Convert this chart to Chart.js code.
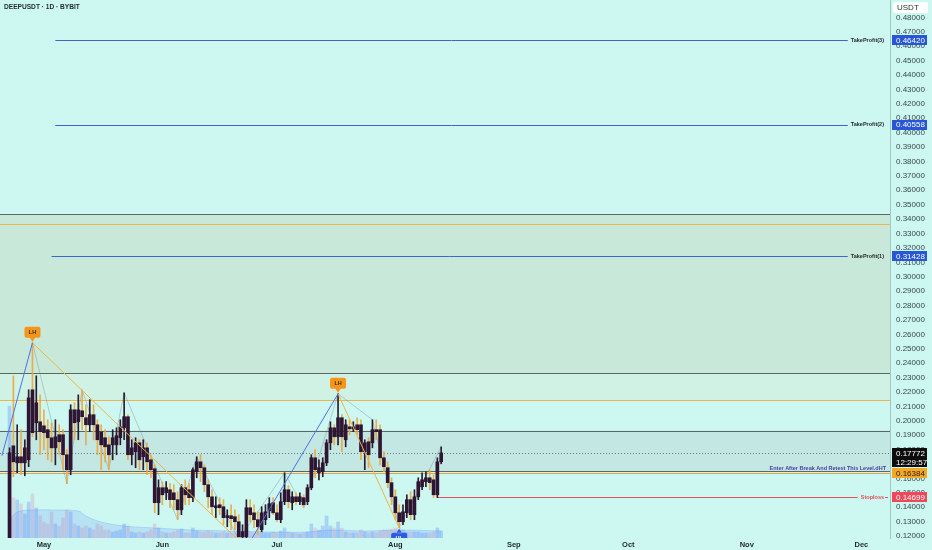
<!DOCTYPE html>
<html>
<head>
<meta charset="utf-8">
<title>DEEPUSDT 1D</title>
<script src="https://cdn.jsdelivr.net/npm/chart.js@4.4.1/dist/chart.umd.min.js"></script>
<style>
  html, body { margin: 0; padding: 0; background: #cdf8f1; overflow: hidden; }
  canvas { display: block; }
</style>
</head>
<body>
<canvas id="chart" width="932" height="550"></canvas>
<script>
// time axis: one slot per day, candles start on Apr 22
const firstDay = "2025-04-20";
const dayCount = 233;
const firstCandle = "2025-04-22";
const monthStarts = ["2025-05-01", "2025-06-01", "2025-07-01", "2025-08-01", "2025-09-01", "2025-10-01", "2025-11-01", "2025-12-01"];
const monthNames = ["May", "Jun", "Jul", "Aug", "Sep", "Oct", "Nov", "Dec"];

// daily candles
const opens = [
  0.1050, 0.1826, 0.1708, 0.1750, 0.1708, 0.1729, 0.2215, 0.1986, 0.1993, 0.1965,
  0.1938, 0.1882, 0.1812, 0.1903, 0.1903, 0.1764, 0.1660, 0.2076, 0.1993, 0.2069,
  0.2021, 0.1972, 0.2042, 0.1972, 0.1924, 0.1882, 0.1833, 0.1833, 0.1833, 0.1882,
  0.1951, 0.2028, 0.1764, 0.1785, 0.1847, 0.1750, 0.1812, 0.1729, 0.1667, 0.1431,
  0.1535, 0.1500, 0.1521, 0.1500, 0.1452, 0.1382, 0.1535, 0.1521, 0.1466, 0.1646,
  0.1715, 0.1674, 0.1556, 0.1472, 0.1396, 0.1417, 0.1403, 0.1327, 0.1341, 0.1334,
  0.1299, 0.1195, 0.1195, 0.1396, 0.1361, 0.1313, 0.1244, 0.1313, 0.1375, 0.1431,
  0.1361, 0.1313, 0.1438, 0.1521, 0.1431, 0.1472, 0.1438, 0.1466, 0.1438, 0.1535,
  0.1743, 0.1639, 0.1646, 0.1708, 0.1847, 0.1951, 0.1889, 0.2021, 0.1868, 0.1958,
  0.1944, 0.1972, 0.1972, 0.1785, 0.1854, 0.1847, 0.1938, 0.1938, 0.1743, 0.1674,
  0.1570, 0.1472, 0.1361, 0.1299, 0.1361, 0.1452, 0.1348, 0.1472, 0.1542, 0.1577,
  0.1604, 0.1590, 0.1486, 0.1715
];
const highs = [
  0.1812, 0.2312, 0.1972, 0.1938, 0.1868, 0.2215, 0.2541, 0.2312, 0.2180, 0.2076,
  0.2007, 0.1986, 0.2007, 0.1972, 0.1938, 0.1799, 0.2111, 0.2125, 0.2180, 0.2215,
  0.2111, 0.2146, 0.2111, 0.2007, 0.1972, 0.1938, 0.1889, 0.1938, 0.1951, 0.2007,
  0.2194, 0.2042, 0.1868, 0.1882, 0.1868, 0.1868, 0.1847, 0.1764, 0.1694, 0.1590,
  0.1577, 0.1577, 0.1563, 0.1556, 0.1507, 0.1556, 0.1590, 0.1563, 0.1674, 0.1750,
  0.1764, 0.1694, 0.1590, 0.1521, 0.1472, 0.1466, 0.1452, 0.1382, 0.1417, 0.1382,
  0.1348, 0.1278, 0.1452, 0.1452, 0.1417, 0.1368, 0.1403, 0.1417, 0.1466, 0.1466,
  0.1417, 0.1500, 0.1639, 0.1549, 0.1507, 0.1500, 0.1500, 0.1486, 0.1556, 0.1764,
  0.1799, 0.1729, 0.1743, 0.1868, 0.1993, 0.1972, 0.2187, 0.2042, 0.2007, 0.2007,
  0.1993, 0.2021, 0.2007, 0.1868, 0.1882, 0.2007, 0.2007, 0.1972, 0.1785, 0.1715,
  0.1604, 0.1521, 0.1417, 0.1417, 0.1486, 0.1507, 0.1521, 0.1604, 0.1639, 0.1646,
  0.1660, 0.1625, 0.1743, 0.1819
];
const lows = [
  0.1000, 0.1611, 0.1639, 0.1625, 0.1618, 0.1681, 0.1889, 0.1868, 0.1764, 0.1799,
  0.1729, 0.1715, 0.1694, 0.1764, 0.1660, 0.1563, 0.1625, 0.1868, 0.1868, 0.1938,
  0.1833, 0.1924, 0.1868, 0.1764, 0.1660, 0.1715, 0.1660, 0.1729, 0.1764, 0.1833,
  0.1868, 0.1729, 0.1694, 0.1674, 0.1660, 0.1660, 0.1625, 0.1604, 0.1361, 0.1348,
  0.1417, 0.1452, 0.1396, 0.1382, 0.1313, 0.1348, 0.1417, 0.1417, 0.1438, 0.1604,
  0.1577, 0.1507, 0.1396, 0.1348, 0.1327, 0.1348, 0.1278, 0.1264, 0.1244, 0.1244,
  0.1174, 0.1160, 0.1174, 0.1299, 0.1257, 0.1209, 0.1230, 0.1278, 0.1327, 0.1348,
  0.1299, 0.1292, 0.1417, 0.1396, 0.1382, 0.1417, 0.1417, 0.1396, 0.1417, 0.1521,
  0.1604, 0.1590, 0.1611, 0.1688, 0.1799, 0.1833, 0.1833, 0.1785, 0.1819, 0.1903,
  0.1924, 0.1903, 0.1729, 0.1660, 0.1674, 0.1812, 0.1868, 0.1694, 0.1646, 0.1535,
  0.1417, 0.1313, 0.1257, 0.1278, 0.1327, 0.1313, 0.1313, 0.1452, 0.1521, 0.1542,
  0.1521, 0.1466, 0.1466, 0.1701
];
const closes = [
  0.1778, 0.1715, 0.1750, 0.1708, 0.1812, 0.2159, 0.1917, 0.2125, 0.1924, 0.1917,
  0.1882, 0.1812, 0.1889, 0.1854, 0.1764, 0.1660, 0.2076, 0.1986, 0.2076, 0.2028,
  0.1972, 0.2042, 0.1972, 0.1868, 0.1833, 0.1819, 0.1764, 0.1882, 0.1896, 0.1958,
  0.2028, 0.1764, 0.1812, 0.1847, 0.1729, 0.1812, 0.1715, 0.1660, 0.1431, 0.1535,
  0.1486, 0.1535, 0.1452, 0.1452, 0.1382, 0.1535, 0.1486, 0.1466, 0.1660, 0.1715,
  0.1674, 0.1556, 0.1472, 0.1403, 0.1410, 0.1396, 0.1327, 0.1341, 0.1320, 0.1299,
  0.1195, 0.1230, 0.1396, 0.1348, 0.1313, 0.1264, 0.1361, 0.1368, 0.1424, 0.1361,
  0.1313, 0.1438, 0.1521, 0.1438, 0.1472, 0.1438, 0.1472, 0.1417, 0.1535, 0.1743,
  0.1660, 0.1674, 0.1708, 0.1847, 0.1951, 0.1889, 0.2021, 0.1889, 0.1972, 0.1944,
  0.1958, 0.1938, 0.1785, 0.1847, 0.1764, 0.1938, 0.1924, 0.1743, 0.1681, 0.1570,
  0.1472, 0.1361, 0.1299, 0.1368, 0.1452, 0.1348, 0.1472, 0.1577, 0.1590, 0.1604,
  0.1570, 0.1486, 0.1715, 0.1777
];
// volume, millions
const volumes = [
  66, 20, 19, 17, 12, 18, 22, 15, 11, 8,
  7, 13, 7, 6, 10, 14, 13, 7, 6, 5,
  6, 5, 4, 7, 6, 4, 4, 3, 3.5, 4,
  7, 6, 3, 2.5, 3, 2.5, 3, 4, 7, 5,
  3, 2.5, 2.5, 3, 4, 4.5, 2.5, 2.5, 5, 3.5,
  3, 3, 3.5, 3, 2.5, 2.5, 3, 2.5, 2.5, 2.5,
  3.5, 3, 5, 3, 2.5, 2.5, 3, 2.5, 2.5, 3,
  2.5, 3.5, 5, 3, 2.5, 2.5, 2, 2.5, 3, 7,
  5, 4, 6, 11, 6, 5, 8, 5, 3, 2.5,
  2.5, 2.5, 4, 3, 2.5, 3, 2.5, 3.5, 4, 4,
  4.5, 5, 5, 4, 3, 3, 3, 3, 2.5, 2.5,
  2.5, 3, 5, 3.5
];
// volume moving average, read at a few dates
const volMaDates = ["2025-04-22", "2025-04-24", "2025-04-28", "2025-05-04", "2025-05-10", "2025-05-12", "2025-05-16", "2025-05-22", "2025-05-30", "2025-06-09", "2025-06-19", "2025-06-29", "2025-07-09", "2025-07-15", "2025-07-24", "2025-08-02", "2025-08-13"];
const volMaValues = [9, 13, 14, 14, 13.5, 11, 8, 6, 5, 4, 3.5, 3, 3, 4, 3.5, 4, 3.5];

// price axis
const priceTicks = [0.12, 0.13, 0.14, 0.15, 0.16, 0.17, 0.18, 0.19, 0.20, 0.21, 0.22, 0.23, 0.24, 0.25, 0.26, 0.27, 0.28, 0.29, 0.30, 0.31, 0.32, 0.33, 0.34, 0.35, 0.36, 0.37, 0.38, 0.39, 0.40, 0.41, 0.42, 0.43, 0.44, 0.45, 0.46, 0.47, 0.48];
const priceMin = 0.1186;
const priceMax = 0.4921;

// drawn levels
const zoneLow = [0.2331, 0.2141, 0.1648];
const zoneHigh = [0.3434, 0.2331, 0.1932];
const greyLevels = [0.3434, 0.2331, 0.1932, 0.1648];
const orangeLevels = [0.3365, 0.2141];
const tpValues = [0.31428, 0.40558, 0.46420];
const tpNames = ["TakeProfit(1)", "TakeProfit(2)", "TakeProfit(3)"];
const tpFrom = ["2025-05-03", "2025-05-04", "2025-05-04"];
const entryLevel = 0.16384;
const entryText = "Enter After Break And Retest This Level.dHT";
const stopLevel = 0.14699;
const stopFrom = "2025-08-12";
const lastPrice = 0.17772;
const countdown = "12:29:57";

// swing structure
const swingDates = ["2025-04-20", "2025-04-28", "2025-06-23", "2025-07-17", "2025-08-02"];
const swingPrices = [0.1757, 0.2541, 0.1118, 0.2187, 0.1257];
const swingTags = ["", "LH", "", "LH", "HL"];
const zzDates = ["2025-04-28", "2025-05-07", "2025-05-11", "2025-05-18", "2025-05-22", "2025-06-05", "2025-06-10", "2025-06-21", "2025-07-03", "2025-07-08", "2025-07-17", "2025-07-26", "2025-08-02", "2025-08-13"];
const zzPrices = [0.2541, 0.1563, 0.2215, 0.1660, 0.2194, 0.1313, 0.1750, 0.1174, 0.1639, 0.1396, 0.2187, 0.2007, 0.1257, 0.1819];

/* build the day labels */
function isoDay(base, add) {
  const d = new Date(base + "T00:00:00Z");
  d.setUTCDate(d.getUTCDate() + add);
  return d.toISOString().slice(0, 10);
}
const days = [];
for (let k = 0; k < dayCount; k++) days.push(isoDay(firstDay, k));

const pad = days.indexOf(firstCandle);
function spread(values) {
  const out = days.map(() => null);
  values.forEach((v, k) => { out[pad + k] = v; });
  return out;
}
const isUp = closes.map((c, k) => c >= opens[k]);

const FONT = '"Liberation Sans", Arial, sans-serif';
const BG = "#cdf8f1";
const zoneColors = ["#c8e9da", "#d0f2e5", "#c3e7e2"];

function yPix(chart, v) { return chart.scales.y.getPixelForValue(v); }
function xPix(chart, d) { return chart.scales.x.getPixelForValue(days.indexOf(d)); }
function hline(ctx, x1, x2, y, color, dash) {
  ctx.save();
  ctx.strokeStyle = color;
  ctx.lineWidth = 1;
  if (dash) ctx.setLineDash(dash);
  ctx.beginPath();
  ctx.moveTo(x1, Math.round(y) + 0.5);
  ctx.lineTo(x2, Math.round(y) + 0.5);
  ctx.stroke();
  ctx.restore();
}
function priceTag(ctx, area, y, fill, color, rows) {
  const h = rows.length === 1 ? 10 : 19;
  ctx.fillStyle = fill;
  ctx.fillRect(area.right + 2, Math.round(y - 5), 35, h);
  ctx.fillStyle = color;
  ctx.font = "8px " + FONT;
  ctx.textAlign = "left";
  ctx.textBaseline = "middle";
  rows.forEach((r, k) => ctx.fillText(r, area.right + 6, y + 0.5 + k * 9));
}
function tinyText(ctx, text, xRight, y, color, baseline) {
  ctx.font = "bold 5.5px " + FONT;
  ctx.textAlign = "right";
  ctx.textBaseline = baseline || "middle";
  ctx.fillStyle = color;
  ctx.fillText(text, xRight, y);
  return ctx.measureText(text).width;
}

const overlay = {
  id: "overlay",
  beforeDraw(chart) {
    const ctx = chart.ctx;
    ctx.save();
    ctx.fillStyle = BG;
    ctx.fillRect(0, 0, chart.width, chart.height);
    ctx.restore();
  },
  beforeDatasetsDraw(chart) {
    const { ctx, chartArea: a } = chart;
    ctx.save();
    ctx.beginPath();
    ctx.rect(a.left, a.top, a.right - a.left, a.bottom - a.top);
    ctx.clip();
    zoneLow.forEach((lo, k) => {
      const y1 = yPix(chart, zoneHigh[k]);
      const y2 = yPix(chart, lo);
      ctx.fillStyle = zoneColors[k];
      ctx.fillRect(a.left, y1, a.right - a.left, y2 - y1);
    });
    greyLevels.forEach(v => hline(ctx, a.left, a.right, yPix(chart, v), "#5b6868"));
    orangeLevels.forEach(v => hline(ctx, a.left, a.right, yPix(chart, v), "#efb450"));
    hline(ctx, a.left, a.right, yPix(chart, entryLevel), "#eea23a");
    hline(ctx, a.left, a.right, yPix(chart, lastPrice), "#6b7878", [1, 2]);

    // right side labels with their lines
    const textEnd = a.right - 6;
    tpValues.forEach((v, k) => {
      const y = yPix(chart, v);
      const w = tinyText(ctx, tpNames[k], textEnd, y, "#1f2626");
      hline(ctx, xPix(chart, tpFrom[k]), textEnd - w - 3, y, "#4463c8");
    });
    const ys = yPix(chart, stopLevel);
    const ws = tinyText(ctx, "Stoploss", textEnd, ys, "#e44a5a");
    hline(ctx, xPix(chart, stopFrom), textEnd - ws - 3, ys, "#e8505c");
    hline(ctx, textEnd + 1, textEnd + 4, ys, "#e8505c");
    tinyText(ctx, entryText, textEnd + 2, yPix(chart, entryLevel) - 1.5, "#4a3ea6", "bottom");
    ctx.restore();
  },
  afterDraw(chart) {
    const { ctx, chartArea: a } = chart;
    ctx.save();

    // swing labels
    ctx.beginPath();
    ctx.rect(a.left, a.top, a.right - a.left, a.bottom - a.top);
    ctx.clip();
    swingTags.forEach((t, k) => {
      if (!t) return;
      const x = xPix(chart, swingDates[k]);
      const y = yPix(chart, swingPrices[k]);
      const high = t === "LH";
      ctx.fillStyle = high ? "#f5961a" : "#2a5be0";
      ctx.beginPath();
      if (high) {
        ctx.roundRect(x - 8, y - 16, 16, 11, 2);
        ctx.moveTo(x - 3, y - 5.5); ctx.lineTo(x + 3, y - 5.5); ctx.lineTo(x, y - 1);
      } else {
        ctx.roundRect(x - 8, y + 5, 16, 11, 2);
        ctx.moveTo(x - 3, y + 5.5); ctx.lineTo(x + 3, y + 5.5); ctx.lineTo(x, y + 1);
      }
      ctx.fill();
      ctx.fillStyle = high ? "#3a2a10" : "#ffffff";
      ctx.font = "bold 5.5px " + FONT;
      ctx.textAlign = "center";
      ctx.textBaseline = "middle";
      ctx.fillText(t, x, high ? y - 10.5 : y + 10.5);
    });
    ctx.restore();

    ctx.save();
    // axis tags
    tpValues.forEach(v => priceTag(ctx, a, yPix(chart, v), "#2856d8", "#ffffff", [v.toFixed(5)]));
    priceTag(ctx, a, yPix(chart, entryLevel), "#f5a623", "#1c1c1c", [entryLevel.toFixed(5)]);
    priceTag(ctx, a, yPix(chart, stopLevel), "#f0485a", "#ffffff", [stopLevel.toFixed(5)]);
    priceTag(ctx, a, yPix(chart, lastPrice), "#0d0d0d", "#ffffff", [lastPrice.toFixed(5), countdown]);

    // currency box
    ctx.fillStyle = "#ffffff";
    ctx.beginPath();
    ctx.roundRect(a.right + 3, 2, 35, 11, 2);
    ctx.fill();
    ctx.fillStyle = "#2a3333";
    ctx.font = "8px " + FONT;
    ctx.textAlign = "left";
    ctx.textBaseline = "middle";
    ctx.fillText("USDT", a.right + 7, 8);

    // symbol title
    ctx.fillStyle = "#1d2b2b";
    ctx.font = "bold 6.6px " + FONT;
    ctx.fillText("DEEPUSDT \u00b7 1D \u00b7 BYBIT", 4, 7.5);
    ctx.restore();
  }
};

function segment(k, color) {
  return {
    type: "line",
    data: [
      { x: swingDates[k], y: swingPrices[k] },
      { x: swingDates[k + 1], y: swingPrices[k + 1] }
    ],
    borderColor: color,
    borderWidth: 1,
    pointRadius: 0,
    order: 0
  };
}

Chart.defaults.font.family = FONT;

new Chart(document.getElementById("chart"), {
  data: {
    labels: days,
    datasets: [
      segment(0, "#4b74e6"),
      segment(1, "#f0b448"),
      segment(2, "#4b74e6"),
      segment(3, "#f0b448"),
      {
        type: "bar",
        data: spread(opens.map((o, k) => [o, closes[k]])),
        backgroundColor: "#2e1532",
        barThickness: 3,
        minBarLength: 1,
        grouped: false,
        order: 1
      },
      {
        type: "bar",
        data: spread(lows.map((l, k) => [l, highs[k]])),
        backgroundColor: spread(isUp.map(u => u ? "#2a1c2c" : "rgba(236,166,60,0.9)")),
        barThickness: 1,
        grouped: false,
        order: 2
      },
      {
        type: "line",
        data: zzDates.map((d, k) => ({ x: d, y: zzPrices[k] })),
        borderColor: "rgba(110,120,140,0.35)",
        borderWidth: 1,
        pointRadius: 0,
        order: 3
      },
      {
        type: "line",
        yAxisID: "yv",
        data: volMaDates.map((d, k) => ({ x: d, y: volMaValues[k] })),
        borderColor: "rgba(90,140,255,0.25)",
        backgroundColor: "rgba(90,140,255,0.2)",
        borderWidth: 1,
        pointRadius: 0,
        tension: 0.35,
        fill: "origin",
        order: 4
      },
      {
        type: "bar",
        yAxisID: "yv",
        data: spread(volumes),
        backgroundColor: spread(isUp.map(u => u ? "rgba(70,120,255,0.28)" : "rgba(232,96,150,0.22)")),
        barThickness: 3,
        grouped: false,
        order: 5
      }
    ]
  },
  options: {
    responsive: false,
    animation: false,
    events: [],
    layout: { padding: 0 },
    plugins: { legend: { display: false }, tooltip: { enabled: false } },
    scales: {
      x: {
        type: "category",
        grid: { display: false, drawTicks: false },
        border: { display: false },
        ticks: {
          autoSkip: false,
          maxRotation: 0,
          padding: 2,
          color: "#1e2828",
          font: { size: 7.5, weight: "bold" },
          callback: (v, i) => {
            const k = monthStarts.indexOf(days[i]);
            return k >= 0 ? monthNames[k] : "";
          }
        },
        afterFit: s => { s.height = 12; s.paddingLeft = 0; s.paddingRight = 0; }
      },
      y: {
        type: "linear",
        position: "right",
        min: priceMin,
        max: priceMax,
        grid: { display: false, drawTicks: false },
        border: { display: true, color: "rgba(110,140,140,0.45)" },
        ticks: {
          autoSkip: false,
          padding: 6,
          color: "#3b4848",
          font: { size: 8 },
          callback: v => Number(v).toFixed(5)
        },
        afterBuildTicks: s => { s.ticks = priceTicks.map(v => ({ value: v })); },
        afterFit: s => { s.width = 42; s.paddingTop = 0; s.paddingBottom = 0; }
      },
      yv: {
        display: false,
        min: 0,
        max: 269
      }
    }
  },
  plugins: [overlay]
});
</script>
</body>
</html>
